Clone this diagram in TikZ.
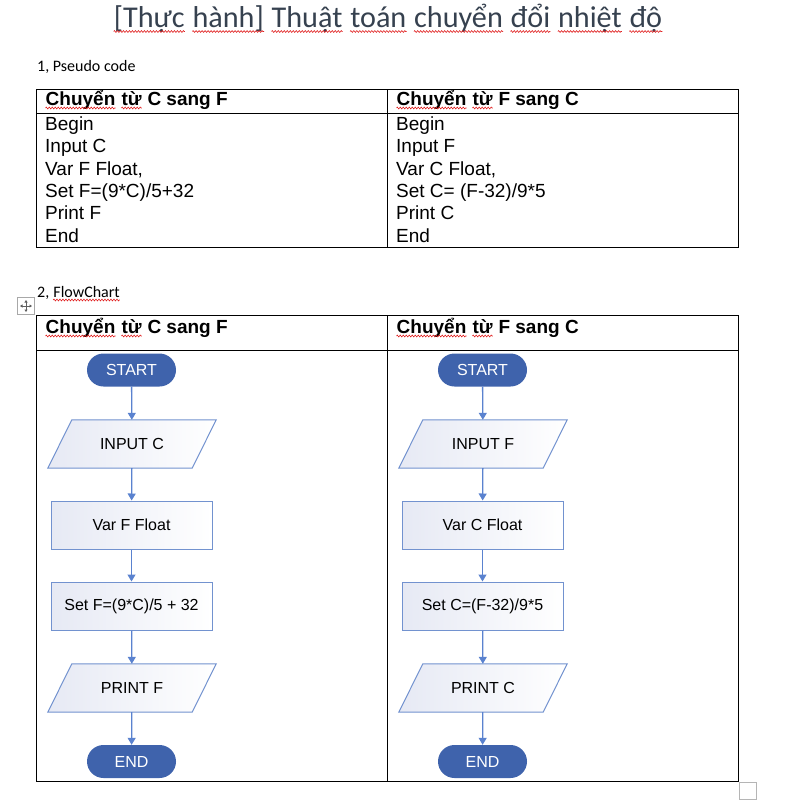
\documentclass[tikz,border=0pt]{standalone}
\usepackage{fontspec}
\setmainfont{Liberation Sans}
\newfontfamily\calibri{Carlito}
\usetikzlibrary{arrows.meta,backgrounds,decorations.pathmorphing}
\definecolor{titlecol}{HTML}{36414F}
\definecolor{squig}{HTML}{E02020}
\definecolor{termfill}{HTML}{3F63AC}
\definecolor{fcborder}{HTML}{7292CF}
\definecolor{fcfill}{HTML}{E6E9F4}
\definecolor{arrowcol}{HTML}{5A82CF}
\definecolor{iconcol}{HTML}{A8A8A8}
\definecolor{iconarrow}{HTML}{606060}
\newcommand\sqw[2][3pt]{\tikz[baseline=(sqwn.base)]{\node[inner sep=0pt, anchor=base west] (sqwn) at (0pt,0pt) {#2};
  \draw[draw=squig, line width=0.6pt, decorate, decoration={zigzag, segment length=3pt, amplitude=0.9pt}] ([yshift=-#1]sqwn.base west) -- ([yshift=-#1]sqwn.base east);}}
\newcommand\drawio[1]{\begin{pgfonlayer}{background}\draw[draw=fcborder, line width=1pt, left color=fcfill, right color=white] ([xshift=12pt]#1.north west) -- ([xshift=12pt]#1.north east) -- ([xshift=-12pt]#1.south east) -- ([xshift=-12pt]#1.south west) -- cycle;\end{pgfonlayer}}
\begin{document}
\begin{tikzpicture}[x=1pt,y=-1pt,
  txt/.style={inner sep=0, anchor=base west},
  bodyfont/.style={font=\fontsize{19}{22}\selectfont},
  hdr/.style={txt, font=\fontsize{19}{22}\selectfont\bfseries},
  tline/.style={line width=1pt, draw=black},
  term/.style={fill=termfill, rounded corners=16.5pt, minimum width=89pt, minimum height=33pt, inner sep=0, text=white, font=\fontsize{16}{19}\selectfont},
  proc/.style={draw=fcborder, line width=1pt, left color=fcfill, right color=white, minimum width=161pt, minimum height=48pt, inner sep=0, font=\fontsize{16}{19}\selectfont},
  iobox/.style={minimum width=144pt, minimum height=48pt, inner sep=0, font=\fontsize{16}{19}\selectfont},
  flow/.style={draw=arrowcol, line width=1.3pt, -{Triangle[width=8pt,length=7pt]}}
]
\useasboundingbox (0,0) rectangle (794,809);
% title
\node[inner sep=0, anchor=base, text=titlecol, font=\calibri\fontsize{30.2}{36}\selectfont] (title) at (388,27)
  {\sqw[4.5pt]{[Thực} \sqw[4.5pt]{hành]} \sqw[4.5pt]{Thuật} \sqw[4.5pt]{toán} \sqw[4.5pt]{chuyển} \sqw[4.5pt]{đổi} \sqw[4.5pt]{nhiệt} \sqw[4.5pt]{độ}};
\node[txt, font=\calibri\fontsize{16}{19}\selectfont] (sec1) at (37,71) {1, Pseudo code};
% table 1
\draw[tline] (36,89) rectangle (738,247);
\draw[tline] (387,89) -- (387,247);
\draw[tline] (36,113) -- (738,113);
\node[hdr] (h1l) at (45,105) {\sqw{Chuyển} \sqw{từ} C sang F};
\node[hdr] (h1r) at (396,105) {\sqw{Chuyển} \sqw{từ} F sang C};
\foreach \t [count=\i from 0] in {Begin,Input C,{Var F Float,},Set F=(9*C)/5+32,Print F,End}
  \node[txt, bodyfont] (pl\i) at (45,130.5+22.3*\i) {\t};
\foreach \t [count=\i from 0] in {Begin,Input F,{Var C Float,},Set C= (F-32)/9*5,Print C,End}
  \node[txt, bodyfont] (pr\i) at (396,130.5+22.3*\i) {\t};
% section 2
\node[txt, font=\calibri\fontsize{16}{19}\selectfont] (sec2) at (37,297) {2, \sqw{FlowChart}};
% move icon
\draw[draw=iconcol, line width=1pt] (17.5,297.5) rectangle (34.5,314.5);
\draw[draw=iconarrow, line width=0.7pt, {Triangle[width=3pt,length=2.5pt]}-{Triangle[width=3pt,length=2.5pt]}] (20,306) -- (32,306);
\draw[draw=iconarrow, line width=0.7pt, {Triangle[width=3pt,length=2.5pt]}-{Triangle[width=3pt,length=2.5pt]}] (26,300) -- (26,312);
% table 2
\draw[tline] (36,315) rectangle (738,781);
\draw[tline] (387,315) -- (387,781);
\draw[tline] (36,350) -- (738,350);
\node[hdr] (h2l) at (45,333) {\sqw{Chuyển} \sqw{từ} C sang F};
\node[hdr] (h2r) at (396,333) {\sqw{Chuyển} \sqw{từ} F sang C};
% left flowchart
\node[term] (ls) at (131.5,370) {START};
\node[iobox] (li) at (132,444) {INPUT C};
\node[proc] (lv) at (131.5,525) {Var F Float};
\node[proc] (lc) at (131.5,606) {Set F=(9*C)/5 + 32};
\node[iobox] (lp) at (132,688) {PRINT F};
\node[term] (le) at (131.5,761.5) {END};
\drawio{li}\drawio{lp}
\draw[flow] (ls) -- (li);
\draw[flow] (li) -- (lv);
\draw[flow] (lv) -- (lc);
\draw[flow] (lc) -- (lp);
\draw[flow] (lp) -- (le);
% right flowchart
\node[term] (rs) at (482.5,370) {START};
\node[iobox] (ri) at (483,444) {INPUT F};
\node[proc] (rv) at (482.5,525) {Var C Float};
\node[proc] (rc) at (482.5,606) {Set C=(F-32)/9*5};
\node[iobox] (rp) at (483,688) {PRINT C};
\node[term] (re) at (482.5,761.5) {END};
\drawio{ri}\drawio{rp}
\draw[flow] (rs) -- (ri);
\draw[flow] (ri) -- (rv);
\draw[flow] (rv) -- (rc);
\draw[flow] (rc) -- (rp);
\draw[flow] (rp) -- (re);
% corner handle
\draw[draw=iconcol!85, line width=1.5pt] (739.5,782.5) rectangle (756.5,799.5);
\end{tikzpicture}
\end{document}
